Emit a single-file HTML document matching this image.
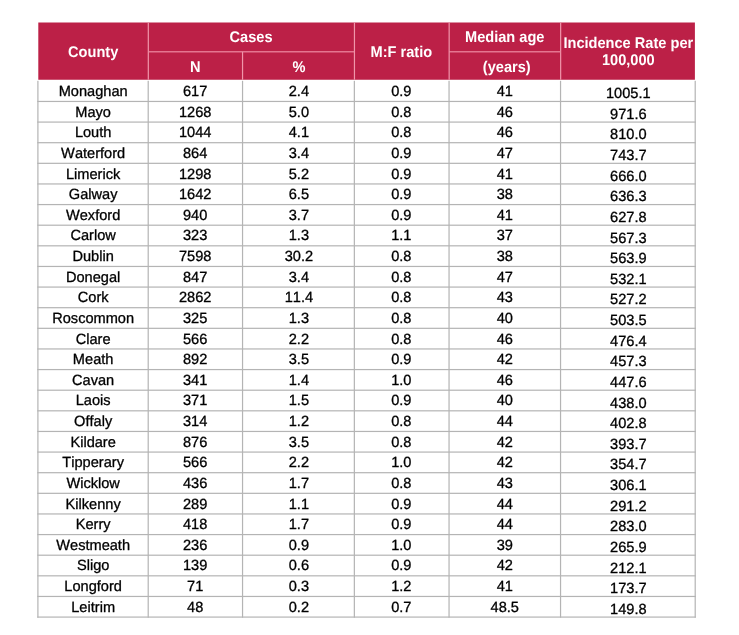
<!DOCTYPE html>
<html><head><meta charset="utf-8"><title>County table</title>
<style>
html,body{margin:0;padding:0;background:#fff;}
body{width:739px;height:635px;position:relative;overflow:hidden;font-family:"Liberation Sans",Arial,sans-serif;text-rendering:geometricPrecision;font-kerning:none;}
svg{position:absolute;left:0;top:0;}
.c{-webkit-text-stroke:0.3px #000;transform:translateY(var(--y)) matrix(1,0.0004,0,1.01,0,0);transform-origin:50% 12px;position:absolute;text-align:center;white-space:nowrap;color:#000;font-size:14.6px;line-height:17px;height:17px;}
.h{transform:translateY(var(--y)) matrix(1,0.0004,0,1.06,0,0);transform-origin:50% 12px;position:absolute;text-align:center;white-space:nowrap;color:#fff;font-weight:bold;font-size:14.6px;line-height:17px;height:17px;}
</style></head><body>
<svg width="739" height="635" viewBox="0 0 739 635">
<rect x="38.3" y="22.5" width="656.60" height="57.25" fill="#bc2047"/>

<rect x="147.70" y="22.50" width="1.2" height="57.25" fill="#f096aa"/>
<rect x="353.85" y="22.50" width="1.2" height="57.25" fill="#f096aa"/>
<rect x="448.55" y="22.50" width="1.2" height="57.25" fill="#f096aa"/>
<rect x="560.05" y="22.50" width="1.2" height="57.25" fill="#f096aa"/>
<rect x="241.95" y="51.80" width="1.2" height="27.95" fill="#f096aa"/>
<rect x="148.20" y="51.20" width="206.15" height="1.2" fill="#ee8aa2"/>
<rect x="449.05" y="51.20" width="111.50" height="1.2" fill="#ee8aa2"/>
<rect x="37.30" y="80.80" width="1.2" height="536.88" fill="#b4b4b4"/>
<rect x="147.60" y="80.80" width="1.2" height="536.88" fill="#b4b4b4"/>
<rect x="241.95" y="80.80" width="1.2" height="536.88" fill="#b4b4b4"/>
<rect x="353.75" y="80.80" width="1.2" height="536.88" fill="#b4b4b4"/>
<rect x="448.45" y="80.80" width="1.2" height="536.88" fill="#b4b4b4"/>
<rect x="559.95" y="80.80" width="1.2" height="536.88" fill="#b4b4b4"/>
<rect x="694.60" y="80.80" width="1.2" height="536.88" fill="#b4b4b4"/>
<rect x="37.30" y="100.85" width="658.50" height="1.2" fill="#b4b4b4"/>
<rect x="37.30" y="121.48" width="658.50" height="1.2" fill="#b4b4b4"/>
<rect x="37.30" y="142.10" width="658.50" height="1.2" fill="#b4b4b4"/>
<rect x="37.30" y="162.72" width="658.50" height="1.2" fill="#b4b4b4"/>
<rect x="37.30" y="183.35" width="658.50" height="1.2" fill="#b4b4b4"/>
<rect x="37.30" y="203.97" width="658.50" height="1.2" fill="#b4b4b4"/>
<rect x="37.30" y="224.60" width="658.50" height="1.2" fill="#b4b4b4"/>
<rect x="37.30" y="245.22" width="658.50" height="1.2" fill="#b4b4b4"/>
<rect x="37.30" y="265.85" width="658.50" height="1.2" fill="#b4b4b4"/>
<rect x="37.30" y="286.47" width="658.50" height="1.2" fill="#b4b4b4"/>
<rect x="37.30" y="307.10" width="658.50" height="1.2" fill="#b4b4b4"/>
<rect x="37.30" y="327.72" width="658.50" height="1.2" fill="#b4b4b4"/>
<rect x="37.30" y="348.35" width="658.50" height="1.2" fill="#b4b4b4"/>
<rect x="37.30" y="368.97" width="658.50" height="1.2" fill="#b4b4b4"/>
<rect x="37.30" y="389.60" width="658.50" height="1.2" fill="#b4b4b4"/>
<rect x="37.30" y="410.22" width="658.50" height="1.2" fill="#b4b4b4"/>
<rect x="37.30" y="430.85" width="658.50" height="1.2" fill="#b4b4b4"/>
<rect x="37.30" y="451.47" width="658.50" height="1.2" fill="#b4b4b4"/>
<rect x="37.30" y="472.10" width="658.50" height="1.2" fill="#b4b4b4"/>
<rect x="37.30" y="492.72" width="658.50" height="1.2" fill="#b4b4b4"/>
<rect x="37.30" y="513.35" width="658.50" height="1.2" fill="#b4b4b4"/>
<rect x="37.30" y="533.98" width="658.50" height="1.2" fill="#b4b4b4"/>
<rect x="37.30" y="554.60" width="658.50" height="1.2" fill="#b4b4b4"/>
<rect x="37.30" y="575.23" width="658.50" height="1.2" fill="#b4b4b4"/>
<rect x="37.30" y="595.85" width="658.50" height="1.2" fill="#b4b4b4"/>
<rect x="37.30" y="616.48" width="658.50" height="1.2" fill="#b4b4b4"/>
</svg>
<div class="h" style="left:37.90px;width:110.30px;top:45px;--y:0.00px">County</div>
<div class="h" style="left:148.20px;width:206.15px;top:30px;--y:0.10px">Cases</div>
<div class="h" style="left:148.20px;width:94.35px;top:60px;--y:0.20px">N</div>
<div class="h" style="left:242.55px;width:111.80px;top:60px;--y:0.20px">%</div>
<div class="h" style="left:354.35px;width:94.70px;top:45px;--y:0.00px">M:F ratio</div>
<div class="h" style="left:449.05px;width:111.50px;top:30px;--y:0.10px">Median age</div>
<div class="h" style="left:450.95px;width:111.50px;top:60px;--y:0.20px">(years)</div>
<div class="h" style="left:560.55px;width:134.65px;top:36px;--y:0.00px">Incidence Rate per</div>
<div class="h" style="left:560.55px;width:134.65px;top:53px;--y:0.00px">100,000</div>
<div class="c" style="left:37.90px;width:110.30px;top:84px;--y:0.10px">Monaghan</div>
<div class="c" style="left:148.20px;width:94.35px;top:84px;--y:0.10px">617</div>
<div class="c" style="left:242.55px;width:111.80px;top:84px;--y:0.10px">2.4</div>
<div class="c" style="left:354.35px;width:94.70px;top:84px;--y:0.10px">0.9</div>
<div class="c" style="left:449.05px;width:111.50px;top:84px;--y:0.10px">41</div>
<div class="c" style="left:560.55px;width:134.65px;top:86px;--y:0.20px">1005.1</div>
<div class="c" style="left:37.90px;width:110.30px;top:104px;--y:0.72px">Mayo</div>
<div class="c" style="left:148.20px;width:94.35px;top:104px;--y:0.72px">1268</div>
<div class="c" style="left:242.55px;width:111.80px;top:104px;--y:0.72px">5.0</div>
<div class="c" style="left:354.35px;width:94.70px;top:104px;--y:0.72px">0.8</div>
<div class="c" style="left:449.05px;width:111.50px;top:104px;--y:0.72px">46</div>
<div class="c" style="left:560.55px;width:134.65px;top:106px;--y:0.82px">971.6</div>
<div class="c" style="left:37.90px;width:110.30px;top:125px;--y:0.35px">Louth</div>
<div class="c" style="left:148.20px;width:94.35px;top:125px;--y:0.35px">1044</div>
<div class="c" style="left:242.55px;width:111.80px;top:125px;--y:0.35px">4.1</div>
<div class="c" style="left:354.35px;width:94.70px;top:125px;--y:0.35px">0.8</div>
<div class="c" style="left:449.05px;width:111.50px;top:125px;--y:0.35px">46</div>
<div class="c" style="left:560.55px;width:134.65px;top:127px;--y:0.45px">810.0</div>
<div class="c" style="left:37.90px;width:110.30px;top:145px;--y:0.97px">Waterford</div>
<div class="c" style="left:148.20px;width:94.35px;top:145px;--y:0.97px">864</div>
<div class="c" style="left:242.55px;width:111.80px;top:145px;--y:0.97px">3.4</div>
<div class="c" style="left:354.35px;width:94.70px;top:145px;--y:0.97px">0.9</div>
<div class="c" style="left:449.05px;width:111.50px;top:145px;--y:0.97px">47</div>
<div class="c" style="left:560.55px;width:134.65px;top:148px;--y:0.07px">743.7</div>
<div class="c" style="left:37.90px;width:110.30px;top:166px;--y:0.60px">Limerick</div>
<div class="c" style="left:148.20px;width:94.35px;top:166px;--y:0.60px">1298</div>
<div class="c" style="left:242.55px;width:111.80px;top:166px;--y:0.60px">5.2</div>
<div class="c" style="left:354.35px;width:94.70px;top:166px;--y:0.60px">0.9</div>
<div class="c" style="left:449.05px;width:111.50px;top:166px;--y:0.60px">41</div>
<div class="c" style="left:560.55px;width:134.65px;top:168px;--y:0.70px">666.0</div>
<div class="c" style="left:37.90px;width:110.30px;top:187px;--y:0.22px">Galway</div>
<div class="c" style="left:148.20px;width:94.35px;top:187px;--y:0.22px">1642</div>
<div class="c" style="left:242.55px;width:111.80px;top:187px;--y:0.22px">6.5</div>
<div class="c" style="left:354.35px;width:94.70px;top:187px;--y:0.22px">0.9</div>
<div class="c" style="left:449.05px;width:111.50px;top:187px;--y:0.22px">38</div>
<div class="c" style="left:560.55px;width:134.65px;top:189px;--y:0.32px">636.3</div>
<div class="c" style="left:37.90px;width:110.30px;top:207px;--y:0.85px">Wexford</div>
<div class="c" style="left:148.20px;width:94.35px;top:207px;--y:0.85px">940</div>
<div class="c" style="left:242.55px;width:111.80px;top:207px;--y:0.85px">3.7</div>
<div class="c" style="left:354.35px;width:94.70px;top:207px;--y:0.85px">0.9</div>
<div class="c" style="left:449.05px;width:111.50px;top:207px;--y:0.85px">41</div>
<div class="c" style="left:560.55px;width:134.65px;top:209px;--y:0.95px">627.8</div>
<div class="c" style="left:37.90px;width:110.30px;top:228px;--y:0.47px">Carlow</div>
<div class="c" style="left:148.20px;width:94.35px;top:228px;--y:0.47px">323</div>
<div class="c" style="left:242.55px;width:111.80px;top:228px;--y:0.47px">1.3</div>
<div class="c" style="left:354.35px;width:94.70px;top:228px;--y:0.47px">1.1</div>
<div class="c" style="left:449.05px;width:111.50px;top:228px;--y:0.47px">37</div>
<div class="c" style="left:560.55px;width:134.65px;top:230px;--y:0.57px">567.3</div>
<div class="c" style="left:37.90px;width:110.30px;top:249px;--y:0.10px">Dublin</div>
<div class="c" style="left:148.20px;width:94.35px;top:249px;--y:0.10px">7598</div>
<div class="c" style="left:242.55px;width:111.80px;top:249px;--y:0.10px">30.2</div>
<div class="c" style="left:354.35px;width:94.70px;top:249px;--y:0.10px">0.8</div>
<div class="c" style="left:449.05px;width:111.50px;top:249px;--y:0.10px">38</div>
<div class="c" style="left:560.55px;width:134.65px;top:251px;--y:0.20px">563.9</div>
<div class="c" style="left:37.90px;width:110.30px;top:269px;--y:0.73px">Donegal</div>
<div class="c" style="left:148.20px;width:94.35px;top:269px;--y:0.73px">847</div>
<div class="c" style="left:242.55px;width:111.80px;top:269px;--y:0.73px">3.4</div>
<div class="c" style="left:354.35px;width:94.70px;top:269px;--y:0.73px">0.8</div>
<div class="c" style="left:449.05px;width:111.50px;top:269px;--y:0.73px">47</div>
<div class="c" style="left:560.55px;width:134.65px;top:271px;--y:0.83px">532.1</div>
<div class="c" style="left:37.90px;width:110.30px;top:290px;--y:0.35px">Cork</div>
<div class="c" style="left:148.20px;width:94.35px;top:290px;--y:0.35px">2862</div>
<div class="c" style="left:242.55px;width:111.80px;top:290px;--y:0.35px">11.4</div>
<div class="c" style="left:354.35px;width:94.70px;top:290px;--y:0.35px">0.8</div>
<div class="c" style="left:449.05px;width:111.50px;top:290px;--y:0.35px">43</div>
<div class="c" style="left:560.55px;width:134.65px;top:292px;--y:0.45px">527.2</div>
<div class="c" style="left:37.90px;width:110.30px;top:310px;--y:0.98px">Roscommon</div>
<div class="c" style="left:148.20px;width:94.35px;top:310px;--y:0.98px">325</div>
<div class="c" style="left:242.55px;width:111.80px;top:310px;--y:0.98px">1.3</div>
<div class="c" style="left:354.35px;width:94.70px;top:310px;--y:0.98px">0.8</div>
<div class="c" style="left:449.05px;width:111.50px;top:310px;--y:0.98px">40</div>
<div class="c" style="left:560.55px;width:134.65px;top:313px;--y:0.08px">503.5</div>
<div class="c" style="left:37.90px;width:110.30px;top:331px;--y:0.60px">Clare</div>
<div class="c" style="left:148.20px;width:94.35px;top:331px;--y:0.60px">566</div>
<div class="c" style="left:242.55px;width:111.80px;top:331px;--y:0.60px">2.2</div>
<div class="c" style="left:354.35px;width:94.70px;top:331px;--y:0.60px">0.8</div>
<div class="c" style="left:449.05px;width:111.50px;top:331px;--y:0.60px">46</div>
<div class="c" style="left:560.55px;width:134.65px;top:333px;--y:0.70px">476.4</div>
<div class="c" style="left:37.90px;width:110.30px;top:352px;--y:0.23px">Meath</div>
<div class="c" style="left:148.20px;width:94.35px;top:352px;--y:0.23px">892</div>
<div class="c" style="left:242.55px;width:111.80px;top:352px;--y:0.23px">3.5</div>
<div class="c" style="left:354.35px;width:94.70px;top:352px;--y:0.23px">0.9</div>
<div class="c" style="left:449.05px;width:111.50px;top:352px;--y:0.23px">42</div>
<div class="c" style="left:560.55px;width:134.65px;top:354px;--y:0.33px">457.3</div>
<div class="c" style="left:37.90px;width:110.30px;top:372px;--y:0.85px">Cavan</div>
<div class="c" style="left:148.20px;width:94.35px;top:372px;--y:0.85px">341</div>
<div class="c" style="left:242.55px;width:111.80px;top:372px;--y:0.85px">1.4</div>
<div class="c" style="left:354.35px;width:94.70px;top:372px;--y:0.85px">1.0</div>
<div class="c" style="left:449.05px;width:111.50px;top:372px;--y:0.85px">46</div>
<div class="c" style="left:560.55px;width:134.65px;top:374px;--y:0.95px">447.6</div>
<div class="c" style="left:37.90px;width:110.30px;top:393px;--y:0.48px">Laois</div>
<div class="c" style="left:148.20px;width:94.35px;top:393px;--y:0.48px">371</div>
<div class="c" style="left:242.55px;width:111.80px;top:393px;--y:0.48px">1.5</div>
<div class="c" style="left:354.35px;width:94.70px;top:393px;--y:0.48px">0.9</div>
<div class="c" style="left:449.05px;width:111.50px;top:393px;--y:0.48px">40</div>
<div class="c" style="left:560.55px;width:134.65px;top:395px;--y:0.58px">438.0</div>
<div class="c" style="left:37.90px;width:110.30px;top:414px;--y:0.10px">Offaly</div>
<div class="c" style="left:148.20px;width:94.35px;top:414px;--y:0.10px">314</div>
<div class="c" style="left:242.55px;width:111.80px;top:414px;--y:0.10px">1.2</div>
<div class="c" style="left:354.35px;width:94.70px;top:414px;--y:0.10px">0.8</div>
<div class="c" style="left:449.05px;width:111.50px;top:414px;--y:0.10px">44</div>
<div class="c" style="left:560.55px;width:134.65px;top:416px;--y:0.20px">402.8</div>
<div class="c" style="left:37.90px;width:110.30px;top:434px;--y:0.73px">Kildare</div>
<div class="c" style="left:148.20px;width:94.35px;top:434px;--y:0.73px">876</div>
<div class="c" style="left:242.55px;width:111.80px;top:434px;--y:0.73px">3.5</div>
<div class="c" style="left:354.35px;width:94.70px;top:434px;--y:0.73px">0.8</div>
<div class="c" style="left:449.05px;width:111.50px;top:434px;--y:0.73px">42</div>
<div class="c" style="left:560.55px;width:134.65px;top:436px;--y:0.83px">393.7</div>
<div class="c" style="left:37.90px;width:110.30px;top:455px;--y:0.35px">Tipperary</div>
<div class="c" style="left:148.20px;width:94.35px;top:455px;--y:0.35px">566</div>
<div class="c" style="left:242.55px;width:111.80px;top:455px;--y:0.35px">2.2</div>
<div class="c" style="left:354.35px;width:94.70px;top:455px;--y:0.35px">1.0</div>
<div class="c" style="left:449.05px;width:111.50px;top:455px;--y:0.35px">42</div>
<div class="c" style="left:560.55px;width:134.65px;top:457px;--y:0.45px">354.7</div>
<div class="c" style="left:37.90px;width:110.30px;top:475px;--y:0.98px">Wicklow</div>
<div class="c" style="left:148.20px;width:94.35px;top:475px;--y:0.98px">436</div>
<div class="c" style="left:242.55px;width:111.80px;top:475px;--y:0.98px">1.7</div>
<div class="c" style="left:354.35px;width:94.70px;top:475px;--y:0.98px">0.8</div>
<div class="c" style="left:449.05px;width:111.50px;top:475px;--y:0.98px">43</div>
<div class="c" style="left:560.55px;width:134.65px;top:478px;--y:0.08px">306.1</div>
<div class="c" style="left:37.90px;width:110.30px;top:496px;--y:0.60px">Kilkenny</div>
<div class="c" style="left:148.20px;width:94.35px;top:496px;--y:0.60px">289</div>
<div class="c" style="left:242.55px;width:111.80px;top:496px;--y:0.60px">1.1</div>
<div class="c" style="left:354.35px;width:94.70px;top:496px;--y:0.60px">0.9</div>
<div class="c" style="left:449.05px;width:111.50px;top:496px;--y:0.60px">44</div>
<div class="c" style="left:560.55px;width:134.65px;top:498px;--y:0.70px">291.2</div>
<div class="c" style="left:37.90px;width:110.30px;top:517px;--y:0.23px">Kerry</div>
<div class="c" style="left:148.20px;width:94.35px;top:517px;--y:0.23px">418</div>
<div class="c" style="left:242.55px;width:111.80px;top:517px;--y:0.23px">1.7</div>
<div class="c" style="left:354.35px;width:94.70px;top:517px;--y:0.23px">0.9</div>
<div class="c" style="left:449.05px;width:111.50px;top:517px;--y:0.23px">44</div>
<div class="c" style="left:560.55px;width:134.65px;top:519px;--y:0.33px">283.0</div>
<div class="c" style="left:37.90px;width:110.30px;top:537px;--y:0.85px">Westmeath</div>
<div class="c" style="left:148.20px;width:94.35px;top:537px;--y:0.85px">236</div>
<div class="c" style="left:242.55px;width:111.80px;top:537px;--y:0.85px">0.9</div>
<div class="c" style="left:354.35px;width:94.70px;top:537px;--y:0.85px">1.0</div>
<div class="c" style="left:449.05px;width:111.50px;top:537px;--y:0.85px">39</div>
<div class="c" style="left:560.55px;width:134.65px;top:539px;--y:0.95px">265.9</div>
<div class="c" style="left:37.90px;width:110.30px;top:558px;--y:0.48px">Sligo</div>
<div class="c" style="left:148.20px;width:94.35px;top:558px;--y:0.48px">139</div>
<div class="c" style="left:242.55px;width:111.80px;top:558px;--y:0.48px">0.6</div>
<div class="c" style="left:354.35px;width:94.70px;top:558px;--y:0.48px">0.9</div>
<div class="c" style="left:449.05px;width:111.50px;top:558px;--y:0.48px">42</div>
<div class="c" style="left:560.55px;width:134.65px;top:560px;--y:0.58px">212.1</div>
<div class="c" style="left:37.90px;width:110.30px;top:579px;--y:0.10px">Longford</div>
<div class="c" style="left:148.20px;width:94.35px;top:579px;--y:0.10px">71</div>
<div class="c" style="left:242.55px;width:111.80px;top:579px;--y:0.10px">0.3</div>
<div class="c" style="left:354.35px;width:94.70px;top:579px;--y:0.10px">1.2</div>
<div class="c" style="left:449.05px;width:111.50px;top:579px;--y:0.10px">41</div>
<div class="c" style="left:560.55px;width:134.65px;top:581px;--y:0.20px">173.7</div>
<div class="c" style="left:37.90px;width:110.30px;top:599px;--y:0.73px">Leitrim</div>
<div class="c" style="left:148.20px;width:94.35px;top:599px;--y:0.73px">48</div>
<div class="c" style="left:242.55px;width:111.80px;top:599px;--y:0.73px">0.2</div>
<div class="c" style="left:354.35px;width:94.70px;top:599px;--y:0.73px">0.7</div>
<div class="c" style="left:449.05px;width:111.50px;top:599px;--y:0.73px">48.5</div>
<div class="c" style="left:560.55px;width:134.65px;top:601px;--y:0.83px">149.8</div>
</body></html>
